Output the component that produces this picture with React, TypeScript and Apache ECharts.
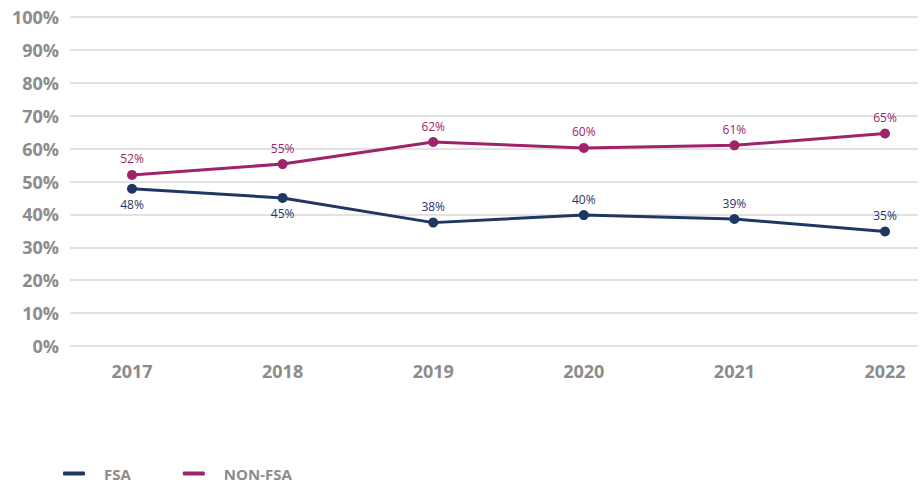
import React, { useEffect, useRef } from "react";
import * as echarts from "echarts";

const years = ["2017", "2018", "2019", "2020", "2021", "2022"];
const fsa = [47.8, 45.0, 37.5, 39.8, 38.6, 34.8];
const nonFsa = [52.0, 55.3, 62.0, 60.2, 61.0, 64.6];
const fsaLabelPos = ["bottom", "bottom", "top", "top", "top", "top"];

const FONT = "'Open Sans', sans-serif";
const GREY = "#8c8c8c";
const NAVY = "#1f3763";
const MAGENTA = "#9e236b";

export default function App() {
  const ref = useRef<HTMLDivElement>(null);
  useEffect(() => {
    const chart = echarts.init(ref.current!, null, { renderer: "svg" });
    const idx = years.map((_, i) => i);
    chart.setOption({
      animation: false,
      textStyle: { fontFamily: FONT },
      grid: { left: 70, top: 17, width: 848, height: 329 },
      xAxis: {
        type: "value",
        min: -0.4117,
        max: 5.219,
        splitLine: { show: false },
        axisLine: { show: false },
        axisTick: { show: false },
        axisLabel: {
          customValues: idx,
          formatter: (v: number) => years[Math.round(v)] ?? "",
          color: GREY,
          fontSize: 18,
          fontWeight: "bold",
          fontFamily: FONT,
          margin: 16,
        },
      },
      yAxis: {
        type: "value",
        min: 0,
        max: 100,
        interval: 10,
        axisLine: { show: false },
        axisTick: { show: false },
        splitLine: { lineStyle: { color: "#d9d9d9", width: 1.5 } },
        axisLabel: {
          formatter: "{value}%",
          color: GREY,
          fontSize: 18,
          fontWeight: "bold",
          fontFamily: FONT,
          margin: 11,
        },
      },
      legend: {
        left: 63,
        top: 466,
        padding: 0,
        icon: "roundRect",
        itemWidth: 22,
        itemHeight: 4,
        itemGap: 52,
        textStyle: {
          color: GREY,
          fontSize: 15,
          fontWeight: "bold",
          fontFamily: FONT,
          padding: [0, 0, 0, 14],
        },
        data: ["FSA", "NON-FSA"],
      },
      series: [
        {
          name: "FSA",
          type: "line",
          data: fsa.map((v, i) => ({
            value: [i, v],
            label: { position: fsaLabelPos[i] },
          })),
          color: NAVY,
          lineStyle: { width: 3 },
          symbol: "circle",
          symbolSize: 10,
          label: {
            show: true,
            color: NAVY,
            fontSize: 12,
            fontFamily: FONT,
            distance: 5,
            formatter: (p: any) => Math.round(p.value[1]) + "%",
          },
        },
        {
          name: "NON-FSA",
          type: "line",
          data: nonFsa.map((v, i) => [i, v]),
          color: MAGENTA,
          lineStyle: { width: 3 },
          symbol: "circle",
          symbolSize: 10,
          label: {
            show: true,
            position: "top",
            color: MAGENTA,
            fontSize: 12,
            fontFamily: FONT,
            distance: 5,
            formatter: (p: any) => Math.round(p.value[1]) + "%",
          },
        },
      ],
    });
    return () => chart.dispose();
  }, []);
  return (
    <div
      ref={ref}
      style={{ position: "absolute", left: 0, top: 0, width: 920, height: 488 }}
    />
  );
}
